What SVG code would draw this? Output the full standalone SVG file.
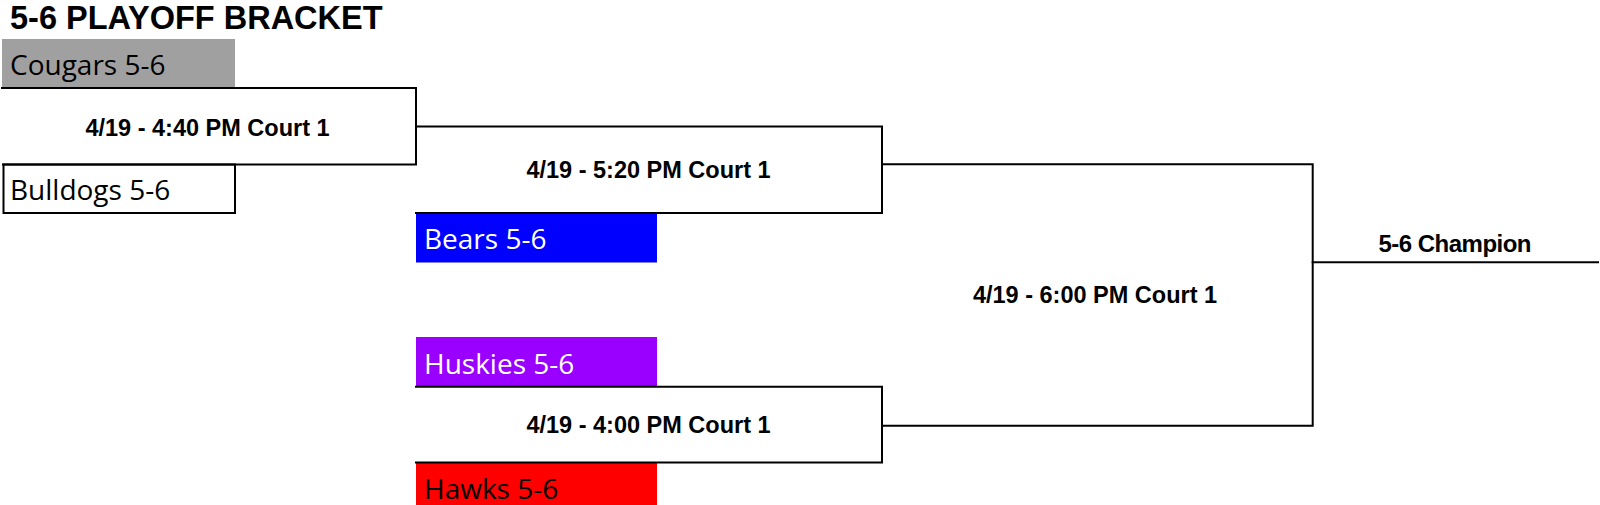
<svg xmlns="http://www.w3.org/2000/svg" width="1600" height="505" viewBox="0 0 1600 505">
<style>
.title{font-family:"Liberation Sans",Arial,sans-serif;font-weight:bold;font-size:32.5px;fill:#000}
.game{font-family:"Liberation Sans",Arial,sans-serif;font-weight:bold;font-size:23.5px;fill:#000;text-anchor:middle}
.team{font-family:"Open Sans","Noto Sans",sans-serif;font-size:28px}
.ln{stroke:#000;stroke-width:2;fill:none;stroke-linecap:square}
</style>
<rect width="1600" height="505" fill="#fff"/>
<text class="title" x="10" y="28.5">5-6 PLAYOFF BRACKET</text>

<g id="team-cougars">
<rect x="2" y="39" width="233" height="49" fill="#a0a0a0"/>
<text class="team" x="10" y="75" fill="#000">Cougars 5-6</text>
</g>
<g id="team-bulldogs">
<rect x="3.5" y="164.5" width="231.5" height="48.5" fill="#fff" stroke="#000" stroke-width="2"/>
<text class="team" x="10" y="200" fill="#000">Bulldogs 5-6</text>
</g>
<g id="team-bears">
<rect x="416" y="213" width="241" height="49.5" fill="#0000ff"/>
<text class="team" x="424" y="248.5" fill="#fff">Bears 5-6</text>
</g>
<g id="team-huskies">
<rect x="416" y="337" width="241" height="49.5" fill="#9900ff"/>
<text class="team" x="424" y="373.5" fill="#fff">Huskies 5-6</text>
</g>
<g id="team-hawks">
<rect x="416" y="462.5" width="241" height="45" fill="#ff0000"/>
<text class="team" x="424" y="498.5" fill="#000">Hawks 5-6</text>
</g>

<g id="connectors">
<polyline class="ln" points="2,88 416,88 416,164.5 3,164.5"/>
<polyline class="ln" points="416,126.5 882,126.5 882,213 416,213"/>
<polyline class="ln" points="416,386.7 882,386.7 882,462.5 416,462.5"/>
<polyline class="ln" points="882,164.3 1312.7,164.3 1312.7,425.7 882,425.7"/>
<line class="ln" x1="1312.7" y1="262.3" x2="1598" y2="262.3"/>
</g>

<g id="game-1"><text class="game" x="207.5" y="135.5">4/19 - 4:40 PM Court 1</text></g>
<g id="game-2"><text class="game" x="648.5" y="178.3">4/19 - 5:20 PM Court 1</text></g>
<g id="game-3"><text class="game" x="648.5" y="433.3">4/19 - 4:00 PM Court 1</text></g>
<g id="game-4"><text class="game" x="1095" y="303.3">4/19 - 6:00 PM Court 1</text></g>
<g id="champion"><text class="game" x="1455" y="252" style="font-size:24px" textLength="153">5-6 Champion</text></g>
</svg>
